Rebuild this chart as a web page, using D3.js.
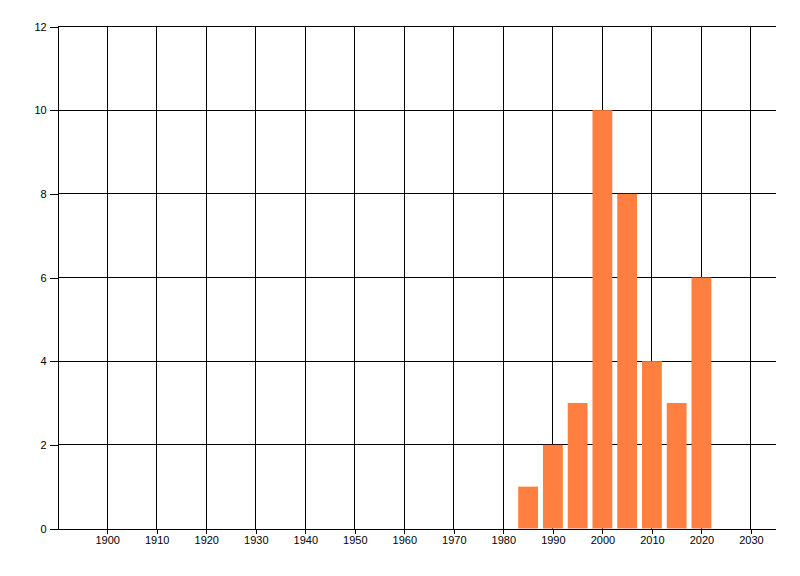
<!DOCTYPE html>
<html><head><meta charset="utf-8">
<script src="https://cdn.jsdelivr.net/npm/d3@7"></script>
<style>
html,body{margin:0;padding:0;background:#fff;}
text{font-family:"Liberation Sans",Arial,sans-serif;font-size:11px;fill:#000;}
</style></head>
<body>
<svg id="c" width="800" height="576"></svg>
<script>
const years = [1985, 1990, 1995, 2000, 2005, 2010, 2015, 2020];
const counts = [1, 2, 3, 10, 8, 4, 3, 6];
const xTicks = [1900, 1910, 1920, 1930, 1940, 1950, 1960, 1970, 1980, 1990, 2000, 2010, 2020, 2030];
const yTicks = [0, 2, 4, 6, 8, 10, 12];
const barWidthYears = 4;

const svg = d3.select("#c");
const x = d3.scaleLinear().domain([1890, 2035]).range([57.7, 775.7]);
const y = d3.scaleLinear().domain([0, 12]).range([528.5, 26.5]);

// horizontal gridlines
svg.append("g").selectAll("line").data(yTicks.filter(d => d > 0)).join("line")
  .attr("x1", x(1890)).attr("x2", x(2035))
  .attr("y1", d => y(d)).attr("y2", d => y(d))
  .attr("stroke", "#000").attr("stroke-width", 1).attr("shape-rendering", "crispEdges");

// vertical gridlines
svg.append("g").selectAll("line").data(xTicks).join("line")
  .attr("x1", d => x(d)).attr("x2", d => x(d))
  .attr("y1", y(12)).attr("y2", y(0))
  .attr("stroke", "#000").attr("stroke-width", 1).attr("shape-rendering", "crispEdges");

// bars
svg.append("g").selectAll("rect").data(years).join("rect")
  .attr("x", d => x(d - barWidthYears / 2))
  .attr("width", d => x(d + barWidthYears / 2) - x(d - barWidthYears / 2))
  .attr("y", (d, i) => y(counts[i]))
  .attr("height", (d, i) => y(0) - y(counts[i]))
  .attr("fill", "#FF7F41");

// axes
const xAxis = d3.axisBottom(x).tickValues(xTicks).tickFormat(d3.format("d")).tickSize(5).tickSizeOuter(0);
const gx = svg.append("g").attr("transform", `translate(0,${y(0)})`).call(xAxis);
gx.select(".domain").attr("stroke", "#000").attr("shape-rendering", "crispEdges");
gx.selectAll(".tick line").attr("stroke", "#000").attr("shape-rendering", "crispEdges");
gx.selectAll("text").attr("font-size", 11).attr("font-family", "Liberation Sans, Arial, sans-serif").attr("dy", "0.71em").attr("y", 8);

const yAxis = d3.axisLeft(y).tickValues(yTicks).tickSize(8).tickSizeOuter(0);
const gy = svg.append("g").attr("transform", `translate(${x(1890)},0)`).call(yAxis);
gy.select(".domain").attr("stroke", "#000").attr("shape-rendering", "crispEdges");
gy.selectAll(".tick line").attr("stroke", "#000").attr("shape-rendering", "crispEdges");
gy.selectAll("text").attr("font-size", 11).attr("font-family", "Liberation Sans, Arial, sans-serif").attr("x", -11);
</script>
</body></html>
